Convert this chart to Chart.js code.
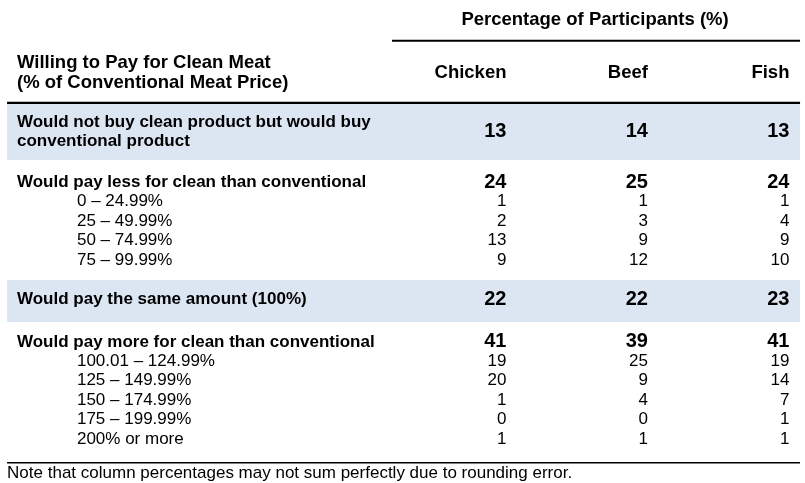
<!DOCTYPE html>
<html>
<head>
<meta charset="utf-8">
<script src="https://cdn.jsdelivr.net/npm/chart.js@4/dist/chart.umd.min.js"></script>
<style>
html, body { margin: 0; padding: 0; background: #fff; }
</style>
</head>
<body>
<canvas id="table" width="805" height="483"></canvas>
<script>
var columns = ['Chicken', 'Beef', 'Fish'];
var titleText = 'Percentage of Participants (%)';
var rowHeader = ['Willing to Pay for Clean Meat', '(% of Conventional Meat Price)'];
var groupLabels = [
    'Would not buy clean product but would buy\nconventional product',
    'Would pay less for clean than conventional',
    'Would pay the same amount (100%)',
    'Would pay more for clean than conventional'
];
var groupChicken = [13, 24, 22, 41];
var groupBeef = [14, 25, 22, 39];
var groupFish = [13, 24, 23, 41];
var lessLabels = ['0 \u2013 24.99%', '25 \u2013 49.99%', '50 \u2013 74.99%', '75 \u2013 99.99%'];
var lessChicken = [1, 2, 13, 9];
var lessBeef = [1, 3, 9, 12];
var lessFish = [1, 4, 9, 10];
var moreLabels = ['100.01 \u2013 124.99%', '125 \u2013 149.99%', '150 \u2013 174.99%', '175 \u2013 199.99%', '200% or more'];
var moreChicken = [19, 20, 1, 0, 1];
var moreBeef = [25, 9, 4, 0, 1];
var moreFish = [19, 14, 7, 1, 1];
var noteText = 'Note that column percentages may not sum perfectly due to rounding error.';

// layout in scale units (x: one unit per value column, y: one unit per text line)
const LEFT = -2.53, RIGHT = 3.075, LABEL_X = -2.46, INDENT_X = -2.036;
const groupY = [6.8, 9.4, 15.44, 17.63];
const bandColor = 'rgb(220,230,242)';
const FONT = '"Liberation Sans", Arial, Helvetica, sans-serif';

var cells = [];
function cell(x, y, text, bold, align, size) {
    cells.push({x: x, y: y, text: text, bold: bold, align: align || 'left', size: size || 17});
}

cell(1.626, 1.03, titleText, true, 'center', 18.5);
cell(LABEL_X, 3.25, rowHeader[0], true, 'left', 18.5);
cell(LABEL_X, 4.28, rowHeader[1], true, 'left', 18.5);
columns.forEach(function(c, i) { cell(i + 1, 3.76, c, true, 'right', 18.5); });

var groupValues = [groupChicken, groupBeef, groupFish];
groupLabels.forEach(function(label, g) {
    var lines = label.split('\n');
    lines.forEach(function(line, k) {
        cell(LABEL_X, groupY[g] + (k - (lines.length - 1) / 2) * 0.98, line, true, 'left', 17);
    });
    groupValues.forEach(function(arr, c) { cell(c + 1, groupY[g], String(arr[g]), true, 'right', 20); });
});

function subRows(labels, cols, startY) {
    labels.forEach(function(label, r) {
        var y = startY + r + 1;
        cell(INDENT_X, y, label, false, 'left', 17);
        cols.forEach(function(arr, c) { cell(c + 1, y, String(arr[r]), false, 'right', 17); });
    });
}
subRows(lessLabels, [lessChicken, lessBeef, lessFish], groupY[1]);
subRows(moreLabels, [moreChicken, moreBeef, moreFish], groupY[3]);

cell(LEFT, 24.4, noteText, false, 'left', 17);

function band(top, bottom) {
    return {
        type: 'line',
        data: [{x: LEFT, y: top}, {x: RIGHT, y: top}],
        borderWidth: 0,
        pointRadius: 0,
        backgroundColor: bandColor,
        fill: {value: bottom}
    };
}
function rule(x1, x2, y, width, color) {
    return {
        type: 'line',
        data: [{x: x1, y: y}, {x: x2, y: y}],
        borderWidth: width,
        borderColor: color || '#000',
        pointRadius: 0,
        fill: false
    };
}

var textPlugin = {
    id: 'cellText',
    afterDatasetsDraw: function(chart) {
        var ctx = chart.ctx;
        var idx = chart.data.datasets.length - 1;
        var meta = chart.getDatasetMeta(idx);
        var data = chart.data.datasets[idx].data;
        ctx.save();
        ctx.fillStyle = '#000';
        ctx.textBaseline = 'middle';
        meta.data.forEach(function(el, i) {
            var d = data[i];
            ctx.font = (d.bold ? 'bold ' : '') + d.size + 'px ' + FONT;
            ctx.textAlign = d.align;
            ctx.fillText(d.text, el.x, el.y);
        });
        ctx.restore();
    }
};

new Chart(document.getElementById('table'), {
    type: 'line',
    data: {
        datasets: [
            band(5.36, 8.25),
            band(14.43, 16.6),
            rule(0.184, RIGHT, 7.77, 1, '#fff'),
            rule(0.191, RIGHT, 2.1, 2),
            rule(LEFT, RIGHT, 5.31, 2.5),
            rule(LEFT, RIGHT, 23.85, 1.5),
            {
                type: 'scatter',
                data: cells,
                pointRadius: 0,
                showLine: false
            }
        ]
    },
    options: {
        responsive: false,
        animation: false,
        layout: {padding: 0},
        plugins: {legend: {display: false}, tooltip: {enabled: false}},
        scales: {
            x: {type: 'linear', min: -2.58, max: 3.11, display: false},
            y: {type: 'linear', reverse: true, min: 0, max: 24.9, display: false}
        }
    },
    plugins: [textPlugin]
});
</script>
</body>
</html>
